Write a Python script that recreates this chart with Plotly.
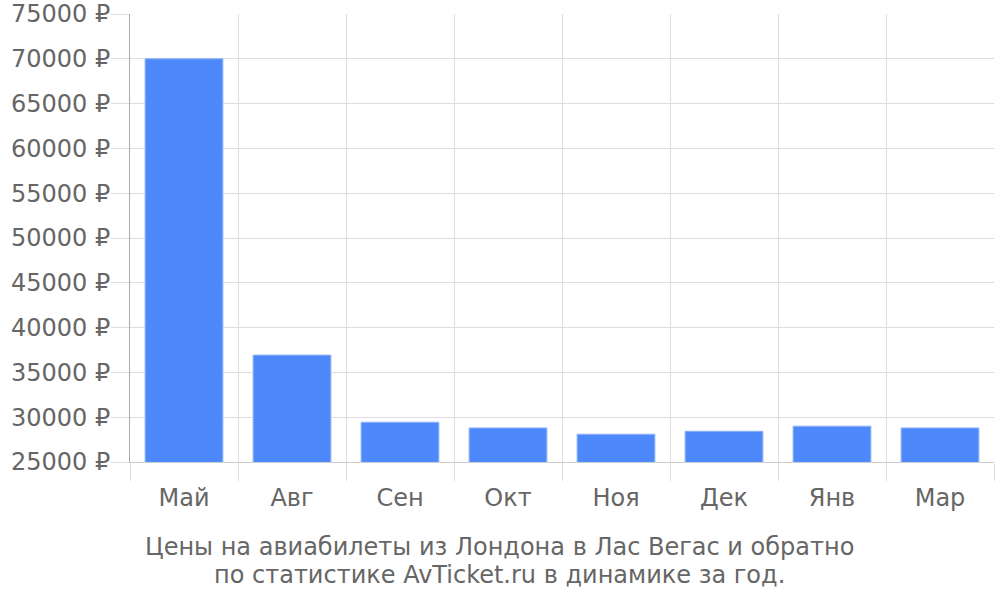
import plotly.graph_objects as go

months = ["Май", "Авг", "Сен", "Окт", "Ноя", "Дек", "Янв", "Мар"]
prices = [70000, 36930, 29440, 28800, 28100, 28430, 29000, 28800]
y_ticks = [25000, 30000, 35000, 40000, 45000, 50000, 55000, 60000, 65000, 70000, 75000]
y_tick_labels = [f"{v} ₽" for v in y_ticks]
title_lines = ["Цены на авиабилеты из Лондона в Лас Вегас и обратно",
               "по статистике AvTicket.ru в динамике за год."]

font_family = "DejaVu Sans"
text_color = "#666666"
grid_color = "#dddddd"
fs = 24

fig = go.Figure(go.Bar(
    x=months, y=prices,
    marker=dict(color="#4d89fa", line=dict(color="#8fb2f5", width=1)),
    width=0.72,
))

fig.update_layout(
    width=1000, height=600,
    margin=dict(l=130, r=6, t=14, b=138, autoexpand=False),
    paper_bgcolor="white", plot_bgcolor="white",
    showlegend=False,
    font=dict(family=font_family, size=fs, color=text_color),
)
for line, yp in zip(title_lines, [-0.1897, -0.2522]):
    fig.add_annotation(
        text=line, x=0.4282, xref="paper", y=yp, yref="paper",
        xanchor="center", yanchor="middle", showarrow=False,
        font=dict(family=font_family, size=fs, color=text_color),
    )
fig.update_xaxes(
    type="category", tickson="boundaries", automargin=False,
    showgrid=True, gridcolor=grid_color, gridwidth=1,
    ticks="outside", ticklen=18, tickcolor=grid_color,
    ticklabelstandoff=14,
    showline=True, linecolor="#cccccc", linewidth=1,
    tickfont=dict(size=fs, color=text_color),
)
fig.update_yaxes(
    range=[25000, 75000], tickvals=y_ticks, ticktext=y_tick_labels,
    automargin=False, ticklabeloverflow="allow",
    showgrid=True, gridcolor=grid_color, gridwidth=1,
    ticks="outside", ticklen=18, tickcolor=grid_color,
    ticklabelstandoff=-4,
    showline=True, linecolor="#aaaaaa", linewidth=1,
    zeroline=False,
    tickfont=dict(size=fs, color=text_color),
)
fig.write_html("out.html", config={"displayModeBar": False},
               post_script="document.body.style.margin='0';")
